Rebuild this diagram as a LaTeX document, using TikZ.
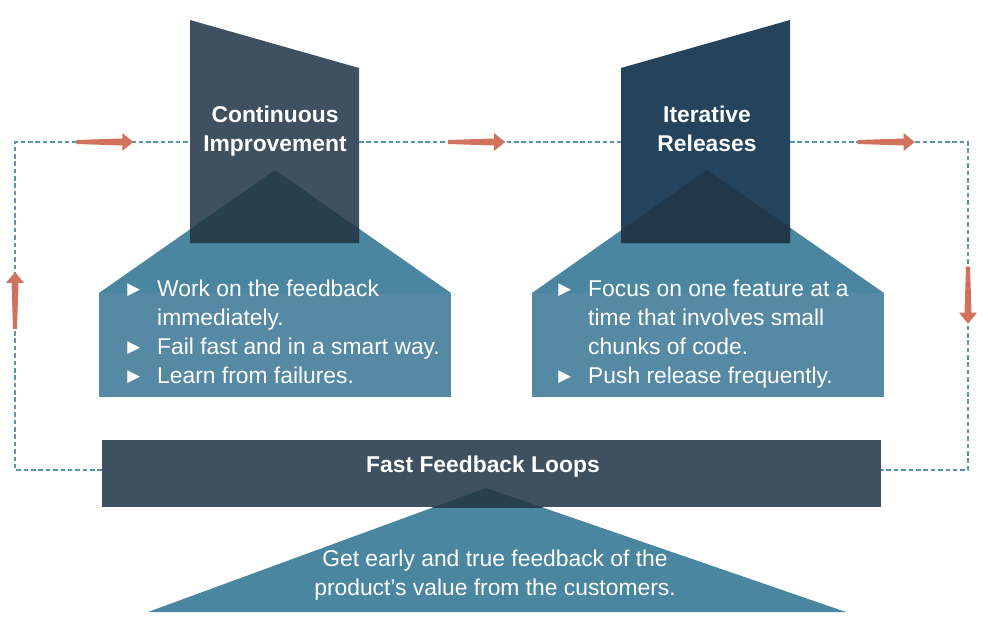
\documentclass[tikz,border=0pt]{standalone}
\usepackage{fontspec}
\setmainfont{Liberation Sans}
\newfontfamily\symfont{DejaVu Sans}
\usetikzlibrary{arrows.meta,positioning,calc}
\definecolor{slatebox}{HTML}{3F5161}
\definecolor{navybox}{HTML}{23445C}
\definecolor{slatedeep}{HTML}{283F4E}
\definecolor{navydeep}{HTML}{21374A}
\definecolor{roofblue}{HTML}{4A86A0}
\definecolor{bodyblue}{HTML}{5689A3}
\definecolor{loopblue}{HTML}{5B93B0}
\definecolor{flowred}{HTML}{D1725C}

\tikzset{
  loopline/.style={draw=loopblue, line width=1.5pt, dash pattern=on 2.6pt off 1.6pt},
  flowarrow/.pic={\fill[flowred] (0,-2) -- (46,-3.5) -- (46,-9) -- (57,0) -- (46,9) -- (46,3.5) -- (0,2) -- cycle;},
  titletext/.style={text=white, font=\fontsize{13}{16.5}\selectfont\bfseries, align=center, inner sep=0pt},
  listtext/.style={text=white, font=\fontsize{13}{16.5}\selectfont, anchor=north west, inner sep=0pt},
}
\newcommand{\pointer}{\raisebox{0.8pt}{\symfont\fontsize{9.5}{9.5}\selectfont ▶}}

\begin{document}
\begin{tikzpicture}[x=0.02cm, y=-0.02cm]
    \useasboundingbox (0,0) rectangle (988,629);

    % loop corners and box sides
    \coordinate (tlc) at (15,142);
    \coordinate (trc) at (968,142);
    \coordinate (blc) at (15,470);
    \coordinate (brc) at (968,470);
    \coordinate (ciW) at (190,142);
    \coordinate (ciE) at (359,142);
    \coordinate (irW) at (621,142);
    \coordinate (irE) at (790,142);
    \coordinate (loopsW) at (102,470);
    \coordinate (loopsE) at (881,470);

    % dashed loop
    \draw[loopline] (loopsW) -- (blc) -- (tlc) -- (ciW);
    \draw[loopline] (ciE) -- (irW);
    \draw[loopline] (irE) -- (trc) -- (brc) -- (loopsE);

    % continuous improvement
    \fill[roofblue] (275,170) -- (451,293) -- (99,293) -- cycle;
    \fill[bodyblue] (99,293) rectangle (451,397);
    \fill[slatebox] (190,20) -- (359,68) -- (359,243) -- (190,243) -- cycle;
    \begin{scope}
        \clip (190,20) -- (359,68) -- (359,243) -- (190,243) -- cycle;
        \fill[slatedeep] (275,170) -- (451,293) -- (99,293) -- cycle;
    \end{scope}

    % iterative releases
    \fill[roofblue] (707,170) -- (884,293) -- (532,293) -- cycle;
    \fill[bodyblue] (532,293) rectangle (884,397);
    \fill[navybox] (621,68) -- (790,20) -- (790,243) -- (621,243) -- cycle;
    \begin{scope}
        \clip (621,68) -- (790,20) -- (790,243) -- (621,243) -- cycle;
        \fill[navydeep] (707,170) -- (884,293) -- (532,293) -- cycle;
    \end{scope}

    % fast feedback loops
    \fill[roofblue] (486,488) -- (846,612) -- (148,612) -- cycle;
    \node[fill=slatebox, minimum width=15.58cm, minimum height=1.34cm, inner sep=0pt] (loops) at (491.5,473.5) {};
    \begin{scope}
        \clip (102,440) rectangle (881,507);
        \fill[slatedeep] (486,488) -- (846,612) -- (148,612) -- cycle;
    \end{scope}

    % texts
    \node[titletext] (ciTitle) at (275,131) {Continuous\\Improvement};
    \node[titletext] (irTitle) at (707,129) {Iterative\\Releases};
    \node[titletext] (loopsTitle) at (483,467) {Fast Feedback Loops};
    \node[listtext] (ciList) at (127,275.5) {%
        \begin{tabular}{@{}p{17pt}@{}l@{}}
        \pointer & Work on the feedback\\
                 & immediately.\\
        \pointer & Fail fast and in a smart way.\\
        \pointer & Learn from failures.
        \end{tabular}};
    \node[listtext] (irList) at (558,275.5) {%
        \begin{tabular}{@{}p{17pt}@{}l@{}}
        \pointer & Focus on one feature at a\\
                 & time that involves small\\
                 & chunks of code.\\
        \pointer & Push release frequently.
        \end{tabular}};
    \node[text=white, font=\fontsize{13}{16.5}\selectfont, align=center, inner sep=0pt] (valueText) at (495,575)
        {Get early and true feedback of the\\product’s value from the customers.};

    % flow arrows
    \pic at ($(tlc)!0.35!(ciW)$) {flowarrow};
    \pic at ($(ciE)!0.34!(irW)$) {flowarrow};
    \pic at ($(irE)!0.38!(trc)$) {flowarrow};
    \pic[rotate=-90] at ($(trc)!0.38!(brc)$) {flowarrow};
    \pic[rotate=90] at ($(blc)!0.43!(tlc)$) {flowarrow};
\end{tikzpicture}
\end{document}
